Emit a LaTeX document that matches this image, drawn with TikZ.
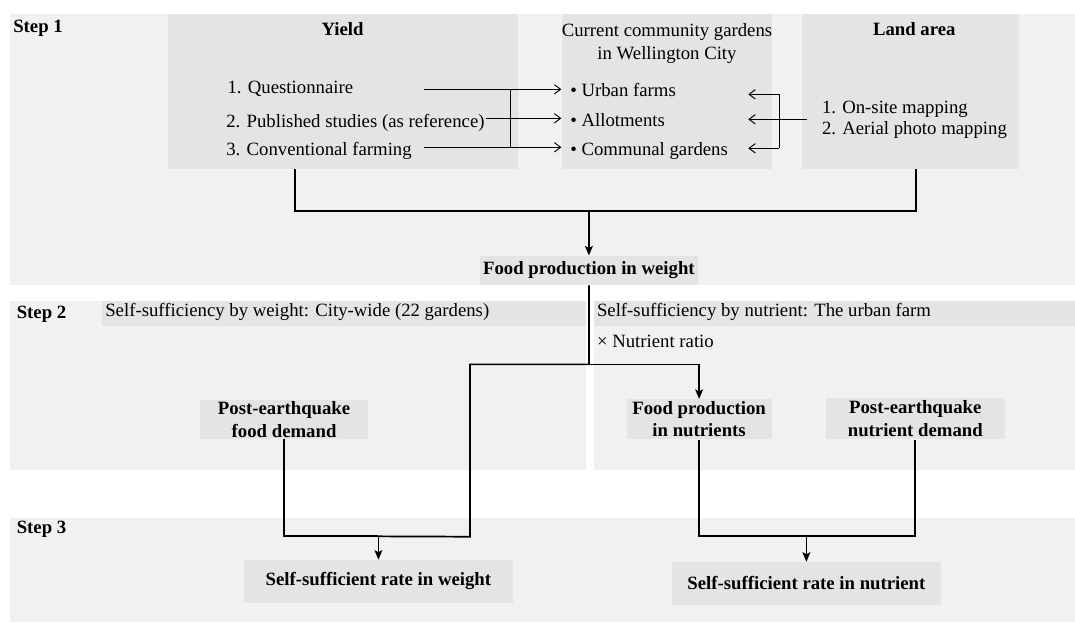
\documentclass[tikz,border=0pt,12pt]{standalone}
\usepackage{fontspec}
\setmainfont{Liberation Serif}
\usetikzlibrary{positioning,calc,arrows.meta}
\definecolor{bandgray}{RGB}{241,241,241}
\definecolor{boxgray}{RGB}{228,228,228}
\newcommand{\pxu}{0.64pt}

\begin{document}
\begin{tikzpicture}[x=0.64pt, y=-0.64pt,
    box/.style={fill=boxgray, inner sep=0pt, align=center, font=\bfseries},
    item/.style={anchor=base west, inner sep=0pt},
    flow/.style={line width=1.1pt},
    arr/.style={-{Stealth[length=6pt,width=5pt,inset=1.2pt]}},
    bus/.style={line width=0.6pt},
    link/.style={line width=0.6pt, -{Straight Barb[length=4pt,width=6pt]}}]
        \useasboundingbox (0,0) rectangle (1075,623);

        % step bands
        \fill[bandgray] (9.5,13.5) rectangle (1075,285);
        \fill[bandgray] (9.5,301) rectangle (586,470);
        \fill[bandgray] (593.5,301) rectangle (1075,470);
        \fill[boxgray] (102,301) rectangle (586,325.7);
        \fill[boxgray] (593.5,301) rectangle (1075,325.7);
        \fill[bandgray] (9.5,518) rectangle (1075,622);

        \node[item, font=\bfseries] (step1) at (13,32) {Step 1};
        \node[item, font=\bfseries] (step2) at (16.5,318.3) {Step 2};
        \node[item, font=\bfseries] (step3) at (16.5,533.3) {Step 3};

        % step 1
        \node[box, minimum width=350*\pxu, minimum height=155*\pxu] (yield) at (342.6,91.5) {};
        \node[box, minimum width=210*\pxu, minimum height=155*\pxu] (gardens) at (666.7,91.5) {};
        \node[box, minimum width=216.7*\pxu, minimum height=155*\pxu] (land) at (910.65,91.5) {};

        \node[anchor=base, font=\bfseries] (yieldt) at (342.6,35.3) {Yield};
        \node[align=center, inner sep=0pt] (gardenst) at (667,43.7) {Current community gardens\\in Wellington City};
        \node[anchor=base, font=\bfseries] (landt) at (914.3,35.7) {Land area};

        \node[item] (q1) at (227.3,93.3) {1. Questionnaire};
        \node[item] (q2) at (226,127.3) {2. Published studies (as reference)};
        \node[item] (q3) at (226,155) {3. Conventional farming};
        \node[item] (g1) at (570,96.7) {\textbullet\ Urban farms};
        \node[item] (g2) at (570,126) {\textbullet\ Allotments};
        \node[item] (g3) at (570,155) {\textbullet\ Communal gardens};
        \node[item] (m1) at (821.7,113.3) {1. On-site mapping};
        \node[item] (m2) at (821.7,134.3) {2. Aerial photo mapping};

        \coordinate (q1out) at (424,89.3);
        \coordinate (q2out) at (486,118.3);
        \coordinate (q3out) at (424,147.3);
        \coordinate (qbus) at (510,0);
        \draw[link] (q1out) -- (q1out -| gardens.west);
        \draw[link] (q2out) -- (q2out -| gardens.west);
        \draw[link] (q3out) -- (q3out -| gardens.west);
        \draw[bus] (q1out -| qbus) -- (q3out -| qbus);

        \coordinate (mout) at (806.7,119.3);
        \coordinate (rtop) at (779,94.3);
        \coordinate (rbot) at (779,148.3);
        \coordinate (rtip) at (748.3,0);
        \draw[link] (mout) -- (mout -| rtip);
        \draw[link] (rtop) -- (rtop -| rtip);
        \draw[link] (rbot) -- (rbot -| rtip);
        \draw[bus] (rtop) -- (rbot);

        \node[box, minimum width=218*\pxu, minimum height=29.3*\pxu] (fpw) at (588.9,270.4) {Food production in weight};

        \coordinate (pjoin) at ($(fpw.north)+(0,-44.7)$);
        \draw[flow] ($(yield.south west)!0.365!(yield.south east)$) |- (pjoin) -| ([xshift=3.2pt]land.south);
        \draw[flow, arr] (pjoin) -- (fpw.north);

        % step 2
        \node[item] (wtitle) at (105,316.7) {Self-sufficiency by weight: City-wide (22 gardens)};
        \node[item] (ntitle) at (596.7,316.7) {Self-sufficiency by nutrient: The urban farm};
        \node[item] (ratio) at (596.7,347.3) {× Nutrient ratio};

        \node[box, minimum width=167.4*\pxu, minimum height=39*\pxu] (fdem) at (284.1,419.5) {Post-earthquake\\food demand};
        \node[box, minimum width=145*\pxu, minimum height=40*\pxu] (fpn) at (699.1,419.2) {Food production\\in nutrients};
        \node[box, minimum width=178.5*\pxu, minimum height=41.6*\pxu] (ndem) at (915.3,418.5) {Post-earthquake\\nutrient demand};

        % step 3
        \node[box, minimum width=269.2*\pxu, minimum height=42.7*\pxu] (ssw) at (378.4,581.3) {Self-sufficient rate in weight};
        \node[box, minimum width=269.2*\pxu, minimum height=43*\pxu] (ssn) at (806.4,583.5) {Self-sufficient rate in nutrient};

        \coordinate (split) at ($(fpw.south)+(0,79)$);
        \coordinate (wturn) at (470,536.7);
        \coordinate (wjoin) at ($(ssw.north)+(0,-23.3)$);
        \coordinate (njoin) at ($(ssn.north)+(0,-26)$);
        \draw[flow] (fpw.south) -- (split) -| (wturn) -- (wjoin);
        \draw[flow, arr] (split) -| (fpn.north);
        \draw[flow] (fdem.south) |- (wjoin);
        \draw[flow, arr] (wjoin) -- (ssw.north);
        \draw[flow] (fpn.south) |- (njoin) -| (ndem.south);
        \draw[flow, arr] (njoin) -- (ssn.north);
\end{tikzpicture}
\end{document}
